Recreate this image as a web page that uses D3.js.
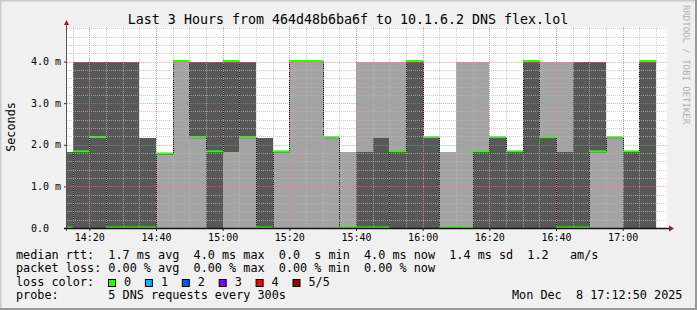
<!DOCTYPE html>
<html>
<head>
<meta charset="utf-8">
<script src="https://cdn.jsdelivr.net/npm/d3@7"></script>
<style>
  body { margin: 0; background: #f0f0f0; }
  text { font-family: "DejaVu Sans Mono", monospace; white-space: pre; }
</style>
</head>
<body>
<svg class="chart"></svg>
<script>
// 5 minute steps, value = start of step
var stepStart = ['14:10','14:15','14:20','14:25','14:30','14:35','14:40','14:45','14:50','14:55',
                 '15:00','15:05','15:10','15:15','15:20','15:25','15:30','15:35','15:40','15:45',
                 '15:50','15:55','16:00','16:05','16:10','16:15','16:20','16:25','16:30','16:35',
                 '16:40','16:45','16:50','16:55','17:00','17:05'];
// sorted pings per step, in ms (lowest, 2nd, median, 4th, highest)
var pingLow  = [0,0,0,0,0,0,0,0,0,0, 0,0,0,0,0,0,0,0,0,0, 0,0,0,0,0,0,0,0,0,0, 0,0,0,0,0,0];
var pingQ1   = [0,0,0,0,0,0,1.78,4.0,2.17,0, 1.83,2.17,0,1.83,4.0,4.0,2.17,0,0,0,
                0,0,0,0,0,0,0,0,0,0, 0,0,1.83,2.17,0,0];
var medianRtt= [0,1.83,2.17,0,0,0,1.78,4.0,2.17,1.83, 4.0,2.17,0,1.83,4.0,4.0,2.17,0,0,0,
                1.83,4.0,2.17,0,0,1.83,2.17,1.83,4.0,2.17, 0,0,1.83,2.17,1.83,4.0];
var pingQ3   = [1.83,4.0,4.0,4.0,4.0,2.17,1.78,4.0,4.0,4.0, 4.0,4.0,2.17,1.83,4.0,4.0,2.17,0,1.83,2.17,
                1.83,4.0,2.17,0,0,1.83,2.17,1.83,4.0,2.17, 1.83,4.0,4.0,2.17,1.83,4.0];
var pingHigh = [1.83,4.0,4.0,4.0,4.0,2.17,1.78,4.0,4.0,4.0, 4.0,4.0,2.17,1.83,4.0,4.0,2.17,1.83,4.0,4.0,
                4.0,4.0,2.17,1.83,4.0,4.0,2.17,1.83,4.0,4.0, 4.0,4.0,4.0,2.17,1.83,4.0];
var lostPings= [0,0,0,0,0,0,0,0,0,0, 0,0,0,0,0,0,0,0,0,0, 0,0,0,0,0,0,0,0,0,0, 0,0,0,0,0,0];

var lossColors = ['#26ff00','#00b8ff','#0059ff','#7e00ff','#ff0000','#a10000'];
var lossLabels = ['0','1','2','3','4','5/5'];
var yTicks = [0, 1, 2, 3, 4];

var legendLines = [
  'median rtt:  1.7 ms avg  4.0 ms max  0.0  s min  4.0 ms now  1.4 ms sd  1.2   am/s',
  'packet loss: 0.00 % avg  0.00 % max  0.00 % min  0.00 % now'
];
var probeText = 'probe:       5 DNS requests every 300s';
var dateText = 'Mon Dec  8 17:12:50 2025';
var title = 'Last 3 Hours from 464d48b6ba6f to 10.1.6.2 DNS flex.lol';

var width = 697, height = 310;
var plot = { left: 67, right: 667, top: 27, bottom: 228 };

function toTime(s) {
  var p = s.split(':');
  return new Date(2025, 11, 8, +p[0], +p[1]);
}

var data = stepStart.map(function(s, i) {
  var t = toTime(s);
  return { start: t, end: d3.timeMinute.offset(t, 5), lo: pingLow[i], q1: pingQ1[i],
           med: medianRtt[i], q3: pingQ3[i], hi: pingHigh[i], loss: lostPings[i] };
});

var t0 = new Date(2025, 11, 8, 14, 13, 18), t1 = new Date(2025, 11, 8, 17, 13, 18);

var x = d3.scaleTime().domain([t0, t1]).range([plot.left, plot.right]);
var y = d3.scaleLinear().domain([0, 4.83]).range([plot.bottom, plot.top]);

var svg = d3.select('.chart')
    .attr('width', width)
    .attr('height', height);

// frame
svg.append('rect').attr('width', width).attr('height', height).attr('fill', '#f0f0f0');
svg.append('path').attr('d', `M0,${height}V0H${width}`).attr('fill', 'none')
    .attr('stroke', '#cbcbcb').attr('stroke-width', 3);
svg.append('path').attr('d', `M0,${height}H${width}V0`).attr('fill', 'none')
    .attr('stroke', '#999999').attr('stroke-width', 4);

svg.append('rect')
    .attr('x', plot.left).attr('y', plot.top)
    .attr('width', plot.right - plot.left).attr('height', plot.bottom - plot.top)
    .attr('fill', '#ffffff');

svg.append('clipPath').attr('id', 'clip')
  .append('rect')
    .attr('x', plot.left).attr('y', plot.top)
    .attr('width', plot.right - plot.left).attr('height', plot.bottom - plot.top);

var g = svg.append('g').attr('clip-path', 'url(#clip)');

// smoke: outer range light, inner range dark
g.selectAll('.outer').data(data).enter().append('rect')
    .attr('x', function(d) { return x(d.start); })
    .attr('width', function(d) { return x(d.end) - x(d.start); })
    .attr('y', function(d) { return y(d.hi); })
    .attr('height', function(d) { return y(d.lo) - y(d.hi); })
    .attr('fill', '#a4a4a4')
    .attr('shape-rendering', 'crispEdges');

g.selectAll('.inner').data(data).enter().append('rect')
    .attr('x', function(d) { return x(d.start); })
    .attr('width', function(d) { return x(d.end) - x(d.start); })
    .attr('y', function(d) { return y(d.q3); })
    .attr('height', function(d) { return y(d.q1) - y(d.q3); })
    .attr('fill', '#585858')
    .attr('shape-rendering', 'crispEdges');

// median: thin dark step line, then loss coloured segments on top
var stepPts = data.map(function(d) { return [d.start, d.med]; });
stepPts.push([data[data.length - 1].end, data[data.length - 1].med]);
g.append('path')
    .datum(stepPts)
    .attr('d', d3.line().curve(d3.curveStepAfter)
        .x(function(d) { return Math.round(x(d[0])) + 0.5; })
        .y(function(d) { return y(d[1]); }))
    .attr('fill', 'none')
    .attr('stroke', '#202020')
    .attr('stroke-width', 1);

g.selectAll('.med').data(data).enter().append('line')
    .attr('x1', function(d) { return x(d.start); })
    .attr('x2', function(d) { return x(d.end); })
    .attr('y1', function(d) { return y(d.med) - 0.5; })
    .attr('y2', function(d) { return y(d.med) - 0.5; })
    .attr('stroke', function(d) { return lossColors[d.loss]; })
    .attr('stroke-width', 2);

// grid, drawn over the graph like rrdtool does
var minorX = d3.timeMinute.every(5).range(t0, t1);
var majorX = d3.timeMinute.every(20).range(t0, t1);
var minorY = d3.range(0.2, 4.81, 0.2).filter(function(v) { return Math.abs(v - Math.round(v)) > 0.01; });

var grid = svg.append('g').attr('shape-rendering', 'crispEdges');
grid.selectAll('.gx').data(minorX).enter().append('line')
    .attr('x1', function(d) { return Math.round(x(d)) + 0.5; })
    .attr('x2', function(d) { return Math.round(x(d)) + 0.5; })
    .attr('y1', plot.top).attr('y2', plot.bottom)
    .attr('stroke', 'rgba(185,185,185,0.7)').attr('stroke-dasharray', '1,1');
grid.selectAll('.gy').data(minorY).enter().append('line')
    .attr('x1', plot.left).attr('x2', plot.right)
    .attr('y1', function(d) { return Math.round(y(d)) + 0.5; })
    .attr('y2', function(d) { return Math.round(y(d)) + 0.5; })
    .attr('stroke', 'rgba(185,185,185,0.7)').attr('stroke-dasharray', '1,1');
grid.selectAll('.mx').data(majorX).enter().append('line')
    .attr('x1', function(d) { return Math.round(x(d)) + 0.5; })
    .attr('x2', function(d) { return Math.round(x(d)) + 0.5; })
    .attr('y1', plot.top).attr('y2', plot.bottom)
    .attr('stroke', 'rgba(255,110,110,0.6)').attr('stroke-dasharray', '1,1');
grid.selectAll('.my').data(yTicks.slice(1)).enter().append('line')
    .attr('x1', plot.left).attr('x2', plot.right)
    .attr('y1', function(d) { return Math.round(y(d)) + 0.5; })
    .attr('y2', function(d) { return Math.round(y(d)) + 0.5; })
    .attr('stroke', 'rgba(255,110,110,0.6)').attr('stroke-dasharray', '1,1');

// axes
var xAxis = d3.axisBottom(x)
    .tickValues(majorX)
    .tickFormat(d3.timeFormat('%H:%M'))
    .tickSize(3);
var yAxis = d3.axisLeft(y)
    .tickValues(yTicks)
    .tickFormat(function(d) { return d === 0 ? '0.0  ' : d.toFixed(1) + ' m'; })
    .tickSize(3);

svg.append('g')
    .attr('transform', `translate(0, ${plot.bottom})`)
    .call(xAxis)
    .call(function(a) {
      a.select('.domain').remove();
      a.selectAll('line').attr('stroke', '#333');
      a.selectAll('text').attr('font-family', 'DejaVu Sans Mono').attr('font-size', 10)
        .attr('fill', '#000').attr('y', 6);
    });

svg.append('g')
    .attr('transform', `translate(${plot.left}, 0)`)
    .call(yAxis)
    .call(function(a) {
      a.select('.domain').remove();
      a.selectAll('line').attr('stroke', '#333');
      a.selectAll('text').attr('font-family', 'DejaVu Sans Mono').attr('font-size', 10)
        .attr('fill', '#000').attr('x', -6);
    });

svg.append('line')
    .attr('x1', plot.left - 0.5).attr('x2', plot.left - 0.5)
    .attr('y1', plot.bottom + 3).attr('y2', plot.top - 3)
    .attr('stroke', '#555').attr('stroke-width', 1);
svg.append('line')
    .attr('x1', plot.left - 3).attr('x2', plot.right + 3)
    .attr('y1', plot.bottom + 0.5).attr('y2', plot.bottom + 0.5)
    .attr('stroke', '#111').attr('stroke-width', 1.5);
svg.append('path')
    .attr('d', `M${plot.left - 3},${plot.top - 2}L${plot.left + 2},${plot.top - 2}L${plot.left - 0.5},${plot.top - 7}Z`)
    .attr('fill', '#a01818');
svg.append('path')
    .attr('d', `M${plot.right + 2},${plot.bottom - 2.5}L${plot.right + 2},${plot.bottom + 3.5}L${plot.right + 7},${plot.bottom + 0.5}Z`)
    .attr('fill', '#a01818');

// texts
svg.append('text')
    .attr('x', 348).attr('y', 24)
    .attr('text-anchor', 'middle')
    .attr('font-size', 13.3)
    .text(title);

svg.append('text')
    .attr('transform', 'translate(15, 127) rotate(-90)')
    .attr('text-anchor', 'middle')
    .attr('font-size', 11.8)
    .text('Seconds');

svg.append('text')
    .attr('transform', 'translate(683, 5) rotate(90)')
    .attr('font-size', 9)
    .attr('fill', '#b0b0b0')
    .text('RRDTOOL / TOBI OETIKER');

svg.selectAll('.legend').data(legendLines).enter().append('text')
    .attr('x', 16)
    .attr('y', function(d, i) { return 258.5 + i * 13.6; })
    .attr('font-size', 11.8)
    .text(function(d) { return d; });

svg.append('text')
    .attr('x', 16).attr('y', 285.7)
    .attr('font-size', 11.8)
    .text('loss color:');

var lc = svg.selectAll('.lc').data(lossColors).enter().append('g')
    .attr('transform', function(d, i) { return `translate(${108 + i * 36.9}, 279)`; });
lc.append('rect')
    .attr('x', 0.5).attr('y', 0.5).attr('width', 7).attr('height', 7)
    .attr('fill', function(d) { return d; })
    .attr('stroke', '#000').attr('stroke-width', 1);
lc.append('text')
    .attr('x', 16).attr('y', 6.7)
    .attr('font-size', 11.8)
    .text(function(d, i) { return lossLabels[i]; });

svg.append('text')
    .attr('x', 16).attr('y', 299.3)
    .attr('font-size', 11.8)
    .text(probeText);

svg.append('text')
    .attr('x', 512).attr('y', 299.3)
    .attr('font-size', 11.8)
    .text(dateText);
</script>
</body>
</html>
